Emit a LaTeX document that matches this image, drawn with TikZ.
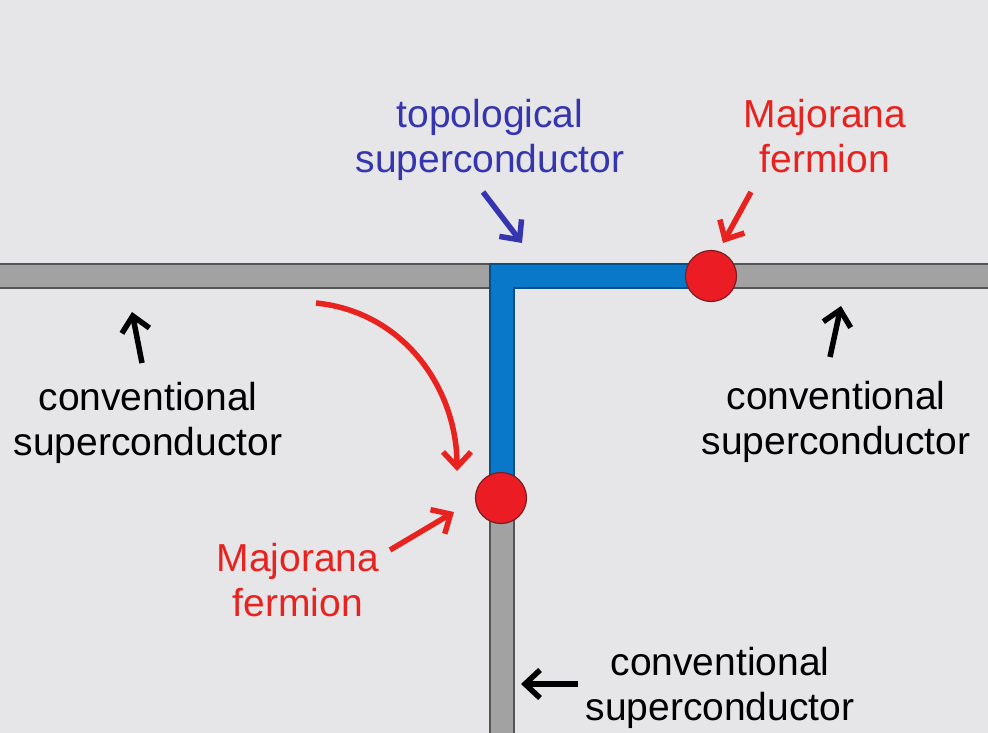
\documentclass[tikz,border=0pt]{standalone}
\usepackage{fontspec}
\setmainfont{Liberation Sans}
\usetikzlibrary{arrows.meta}
\definecolor{bg}{HTML}{E6E5E7}
\definecolor{barfill}{HTML}{A2A2A2}
\definecolor{barline}{HTML}{555555}
\definecolor{tsblue}{HTML}{0A78C8}
\definecolor{tsline}{HTML}{06508A}
\definecolor{txtblue}{HTML}{3535B0}
\definecolor{txtred}{HTML}{E8221E}
\definecolor{mfred}{HTML}{EC1C24}
\definecolor{mfline}{HTML}{7A1E22}
\tikzset{
  lbl/.style={align=center, inner sep=0pt, font=\fontsize{39}{45}\selectfont},
  arr/.style={line width=5.5pt, -{Straight Barb[length=15pt,width=28pt,line width=5.5pt]}},
  mf/.style={circle, fill=mfred, draw=mfline, line width=1.2pt, minimum size=51pt, inner sep=0pt},
}
\begin{document}
\begin{tikzpicture}[x=1pt,y=-1pt]
\fill[bg] (0,0) rectangle (988,733);
\useasboundingbox (0,0) rectangle (988,733);
% gray bars
\filldraw[fill=barfill, draw=barline, line width=1.5pt] (-5,264) rectangle (993,288);
\filldraw[fill=barfill, draw=barline, line width=1.5pt] (490,288) rectangle (514,740);
% blue L
\filldraw[fill=tsblue, draw=tsline, line width=1.2pt] (490,264) -- (711,264) -- (711,288) -- (514,288) -- (514,498) -- (490,498) -- cycle;
% Majorana fermions
\node[mf] (mfR) at (711,276) {};
\node[mf] (mfL) at (501,498) {};
% labels
\node[lbl, text=txtblue] (ts) at (490,140) {topological\\superconductor};
\node[lbl, text=txtred] (mfT) at (825,136) {Majorana\\fermion};
\node[lbl, text=txtred] (mfB) at (298,580) {Majorana\\fermion};
\node[lbl] (csL) at (148,423) {conventional\\superconductor};
\node[lbl] (csR) at (836,422) {conventional\\superconductor};
\node[lbl] (csB) at (720,688) {conventional\\superconductor};
% arrow end points
\coordinate (tsA) at (483,192); \coordinate (tsB) at (522,243);
\coordinate (mTA) at (751,192); \coordinate (mTB) at (723,243);
\coordinate (cLA) at (142,363); \coordinate (cLB) at (132,312);
\coordinate (cRA) at (830,357); \coordinate (cRB) at (841,306);
\coordinate (cBA) at (578,684); \coordinate (cBB) at (521,684);
\coordinate (mBA) at (390,550); \coordinate (mBB) at (454,512);
\coordinate (cvA) at (316,303); \coordinate (cvB) at (457,471);
% arrows
\draw[arr, draw=txtblue] (tsA) -- (tsB);
\draw[arr, draw=txtred] (mTA) -- (mTB);
\draw[arr, draw=black] (cLA) -- (cLB);
\draw[arr, draw=black] (cRA) -- (cRB);
\draw[arr, draw=black] (cBA) -- (cBB);
\draw[arr, draw=txtred] (mBA) -- (mBB);
\draw[arr, draw=txtred] (cvA) .. controls (405,312) and (457,390) .. (cvB);
\end{tikzpicture}
\end{document}
